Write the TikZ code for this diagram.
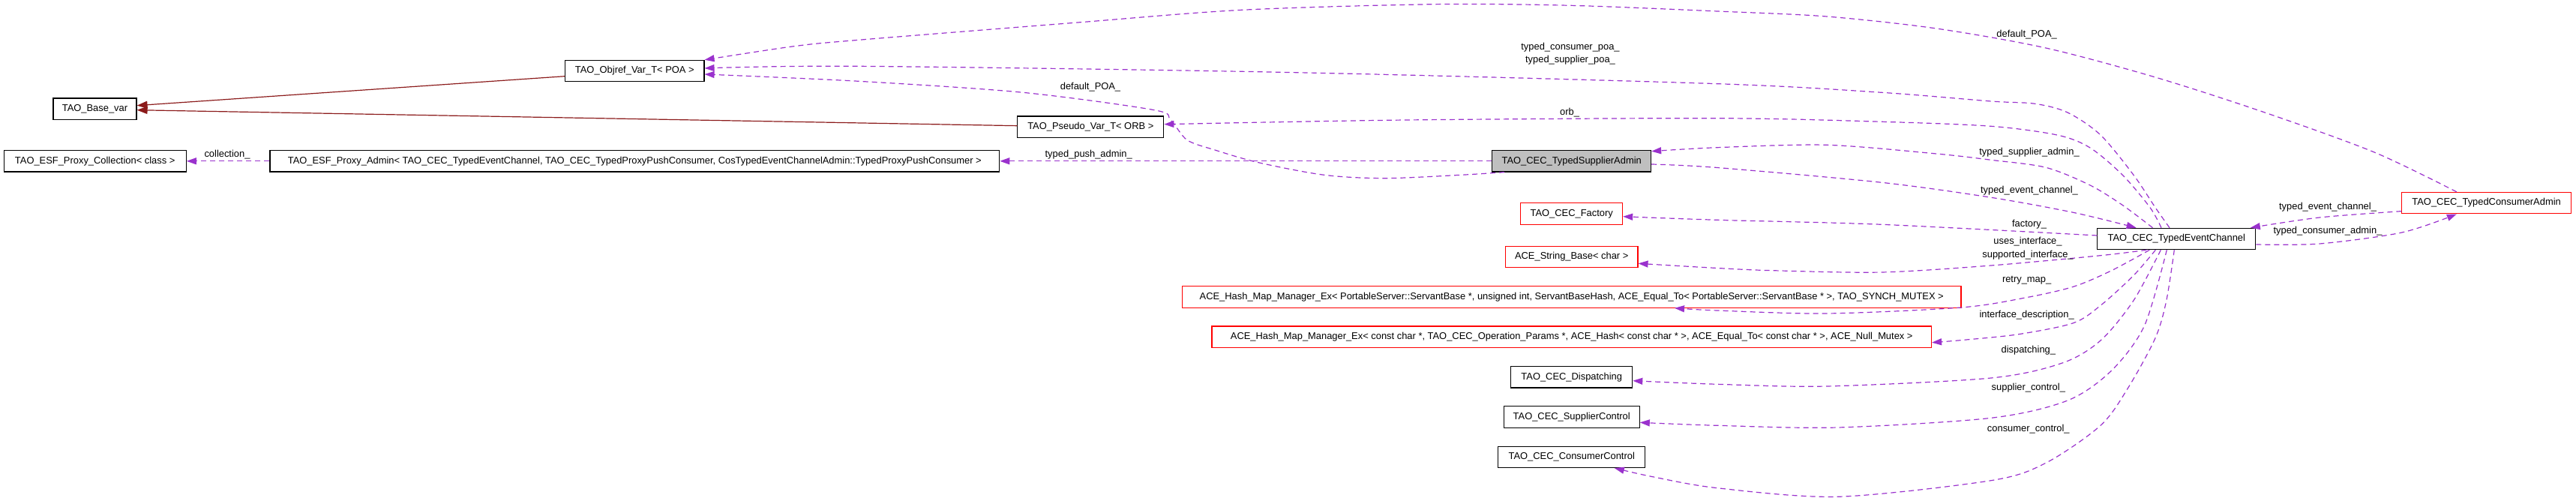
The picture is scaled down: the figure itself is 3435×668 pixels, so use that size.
\documentclass[tikz,border=0pt]{standalone}
\usepackage{fontspec}
\setmainfont{Liberation Sans}
\usetikzlibrary{arrows.meta,calc}
\definecolor{edgepurple}{HTML}{9A32CD}
\definecolor{inhred}{HTML}{8B1A1A}
\definecolor{nodegrey}{HTML}{BFBFBF}
\begin{document}
\begin{tikzpicture}[x=1pt,y=-1pt,font=\fontsize{12.9}{17.2}\selectfont,
  cls/.style={draw=black,fill=white,line width=1.1pt,minimum height=28.5pt,inner sep=0pt,anchor=center},
  redcls/.style={cls,draw=red},
  curcls/.style={cls,fill=nodegrey},
  useedge/.style={draw=edgepurple,line width=1.2pt,dash pattern=on 7pt off 5pt,-{Triangle[length=13pt,width=9pt]}},
  inhedge/.style={draw=inhred,line width=1.2pt,-{Triangle[length=14pt,width=10pt]}},
  lbl/.style={inner sep=0pt,align=center}]
\useasboundingbox (0,0) rectangle (3435,668);
% nodes
\node[cls,minimum width=111pt] (base) at (126.5,145.3) {TAO\_Base\_var};
\node[cls,minimum width=185.4pt] (objref) at (846.3,94.6) {TAO\_Objref\_Var\_T< POA >};
\node[cls,minimum width=195pt] (pseudo) at (1454.3,169.3) {TAO\_Pseudo\_Var\_T< ORB >};
\node[cls,minimum width=243.2pt] (coll) at (126.7,214.8) {TAO\_ESF\_Proxy\_Collection< class >};
\node[cls,minimum width=972.7pt] (padmin) at (846.35,214.8) {TAO\_ESF\_Proxy\_Admin< TAO\_CEC\_TypedEventChannel, TAO\_CEC\_TypedProxyPushConsumer, CosTypedEventChannelAdmin::TypedProxyPushConsumer >};
\node[curcls,minimum width=211.8pt] (sadmin) at (2095.7,214.8) {TAO\_CEC\_TypedSupplierAdmin};
\node[redcls,minimum width=135.8pt] (factory) at (2095.7,285.2) {TAO\_CEC\_Factory};
\node[redcls,minimum width=176.6pt] (strbase) at (2095.7,342.5) {ACE\_String\_Base< char >};
\node[redcls,minimum width=1038.5pt] (hash1) at (2095.75,396) {ACE\_Hash\_Map\_Manager\_Ex< PortableServer::ServantBase *, unsigned int, ServantBaseHash, ACE\_Equal\_To< PortableServer::ServantBase * >, TAO\_SYNCH\_MUTEX >};
\node[redcls,minimum width=959.5pt] (hash2) at (2095.75,449.2) {ACE\_Hash\_Map\_Manager\_Ex< const char *, TAO\_CEC\_Operation\_Params *, ACE\_Hash< const char * >, ACE\_Equal\_To< const char * >, ACE\_Null\_Mutex >};
\node[cls,minimum width=162pt] (disp) at (2095.75,502.7) {TAO\_CEC\_Dispatching};
\node[cls,minimum width=181pt] (supctl) at (2095.75,556) {TAO\_CEC\_SupplierControl};
\node[cls,minimum width=195.7pt] (conctl) at (2095.75,609.3) {TAO\_CEC\_ConsumerControl};
\node[cls,minimum width=211pt] (tec) at (2902.3,318.5) {TAO\_CEC\_TypedEventChannel};
\node[redcls,minimum width=225.6pt] (cadmin) at (3315.6,270.65) {TAO\_CEC\_TypedConsumerAdmin};
% end points
\coordinate (e1s) at ($(objref.west)+(0,7.1)$);
\coordinate (e1t) at ($(base.east)+(0,-4.6)$);
\coordinate (e2s) at ($(pseudo.west)+(0,-1.6)$);
\coordinate (e2t) at ($(base.east)+(0,1.4)$);
\coordinate (e5s) at ($(sadmin.south west)+(16.8,0)$);
\coordinate (e5t) at ($(objref.east)+(0,4.4)$);
\coordinate (e6s) at ($(tec.north)+(-9.3,0)$);
\coordinate (e6t) at ($(objref.east)+(0,-3.6)$);
\coordinate (e7s) at ($(tec.north)+(-20.3,0)$);
\coordinate (e7t) at ($(pseudo.east)+(0,-3.6)$);
\coordinate (e8s) at ($(tec.north)+(-31.8,0)$);
\coordinate (e8t) at ($(sadmin.east)+(0,-13.1)$);
\coordinate (e9s) at ($(sadmin.east)+(0,4.2)$);
\coordinate (e9t) at ($(tec.north)+(-53.7,0)$);
\coordinate (e10s) at ($(tec.west)+(0,-4.5)$);
\coordinate (e10t) at ($(factory.east)+(0,3.5)$);
\coordinate (e11s) at ($(tec.south)+(-40,0)$);
\coordinate (e11t) at ($(strbase.east)+(0,8.8)$);
\coordinate (e12s) at ($(tec.south)+(-36,0)$);
\coordinate (e12t) at ($(hash1.south)+(137.25,0)$);
\coordinate (e13s) at ($(tec.south)+(-28,0)$);
\coordinate (e13t) at ($(hash2.east)+(0,7.5)$);
\coordinate (e14s) at ($(tec.south)+(-21,0)$);
\coordinate (e14t) at ($(disp.east)+(0,5)$);
\coordinate (e15s) at ($(tec.south)+(-13,0)$);
\coordinate (e15t) at ($(supctl.east)+(0,7.3)$);
\coordinate (e16s) at ($(tec.south)+(-3,0)$);
\coordinate (e16t) at ($(conctl.south)+(57,0)$);
\coordinate (e17s) at ($(cadmin.west)+(0,11)$);
\coordinate (e17t) at ($(tec.north east)+(-7.5,0)$);
\coordinate (e18s) at ($(tec.east)+(0,7.5)$);
\coordinate (e18t) at ($(cadmin.south)+(-39.8,0)$);
\coordinate (e19s) at ($(cadmin.north)+(-39.8,0)$);
\coordinate (e19t) at (objref.north east);
% inheritance
\draw[inhedge] (e1s) -- (e1t);
\draw[inhedge] (e2s) -- (e2t);
% usage
\draw[useedge] (padmin.west) -- (coll.east);
\node[lbl] (l3) at (303,205.7) {collection\_};
\draw[useedge] (sadmin.west) -- (padmin.east);
\node[lbl] (l4) at (1451.7,205.7) {typed\_push\_admin\_};
\draw[useedge] plot[smooth] coordinates {(e5s) (1948,233.3) (1846,237.7) (1765.7,233.3) (1678,216.7) (1620,200) (1583,186.7) (1561,160) (1539,146.7) (1364,123.3) (1145,108.3) (e5t)};
\node[lbl] (l5) at (1454,115.7) {default\_POA\_};
\draw[useedge] plot[smooth] coordinates {(e6s) (2874,276.7) (2845,233.3) (2801,180) (2757,150) (2713.5,138.3) (2655,135) (2509,123.3) (2290,111.7) (1729,96.7) (1145,88.3) (e6t)};
\node[lbl] (l6) at (2094,71.4) {typed\_consumer\_poa\_\\typed\_supplier\_poa\_};
\draw[useedge] plot[smooth] coordinates {(e7s) (2867,276.7) (2830,233) (2786.5,196.7) (2743,180) (2655,168.3) (2509,162.3) (2290,157.7) (1875,160) (e7t)};
\node[lbl] (l7) at (2093,150) {orb\_};
\draw[useedge] plot[smooth] coordinates {(e8s) (2830,273.3) (2786.5,246.7) (2728,223.3) (2655,213.3) (2582,205) (2436,193.3) (2290,196.7) (e8t)};
\node[lbl] (l8) at (2706,202.7) {typed\_supplier\_admin\_};
\draw[useedge] plot[smooth] coordinates {(e9s) (2290,223.5) (2509,243.3) (2655,263.3) (2764.6,283.3) (e9t)};
\node[lbl] (l9) at (2706,254) {typed\_event\_channel\_};
\draw[useedge] plot[smooth] coordinates {(e10s) (2509,299.3) (2290,293.3) (e10t)};
\node[lbl] (l10) at (2706,299) {factory\_};
\draw[useedge] plot[smooth] coordinates {(e11s) (2801,340.7) (2655,354) (2509,363) (2363,360.7) (2290,357.5) (e11t)};
\node[lbl] (l11) at (2704,331.2) {uses\_interface\_\\supported\_interface\_};
\draw[useedge] plot[smooth] coordinates {(e12s) (2815.7,360.7) (2764.6,382.3) (2699,397.3) (2615,410) (2436,418) (2290,414) (e12t)};
\node[lbl] (l12) at (2702.6,374) {retry\_map\_};
\draw[useedge] plot[smooth] coordinates {(e13s) (2845,367.3) (2801,407.3) (2764.6,430.7) (2691.6,445.7) (2618.6,453.3) (e13t)};
\node[lbl] (l13) at (2702.6,420) {interface\_description\_};
\draw[useedge] plot[smooth] coordinates {(e14s) (2845,400.7) (2801,454) (2750,484) (2655,504) (2436,515) (2290,512.3) (e14t)};
\node[lbl] (l14) at (2704.8,466.7) {dispatching\_};
\draw[useedge] plot[smooth] coordinates {(e15s) (2859.6,434) (2815.7,494) (2757,534) (2655,557.3) (2450.6,570) (2290,567.3) (e15t)};
\node[lbl] (l15) at (2704.8,517.3) {supplier\_control\_};
\draw[useedge] plot[smooth] coordinates {(e16s) (2888.8,400.7) (2874,450.7) (2837.6,517.3) (2801,567.3) (2728,617.3) (2655,640.7) (2450.6,662.3) (2290,650.7) (2203.8,635.7) (e16t)};
\node[lbl] (l16) at (2704.8,571.7) {consumer\_control\_};
\draw[useedge] plot[smooth] coordinates {(e17s) (3093,290) (e17t)};
\node[lbl] (l17) at (3104,276) {typed\_event\_channel\_};
\draw[useedge] plot[smooth] coordinates {(e18s) (3093,325) (3202.8,310) (e18t)};
\node[lbl] (l18) at (3104,308.3) {typed\_consumer\_admin\_};
\draw[useedge] plot[smooth] coordinates {(e19s) (3166,203) (3020,150) (2874,103) (2728,64) (2582,38) (2436,22) (2290,15) (2094,7.3) (1911.7,5.7) (1656,13.3) (1437,30) (1145,53.3) (1058.8,61.7) (e19t)};
\node[lbl] (l19) at (2702.6,45.7) {default\_POA\_};
\end{tikzpicture}
\end{document}
